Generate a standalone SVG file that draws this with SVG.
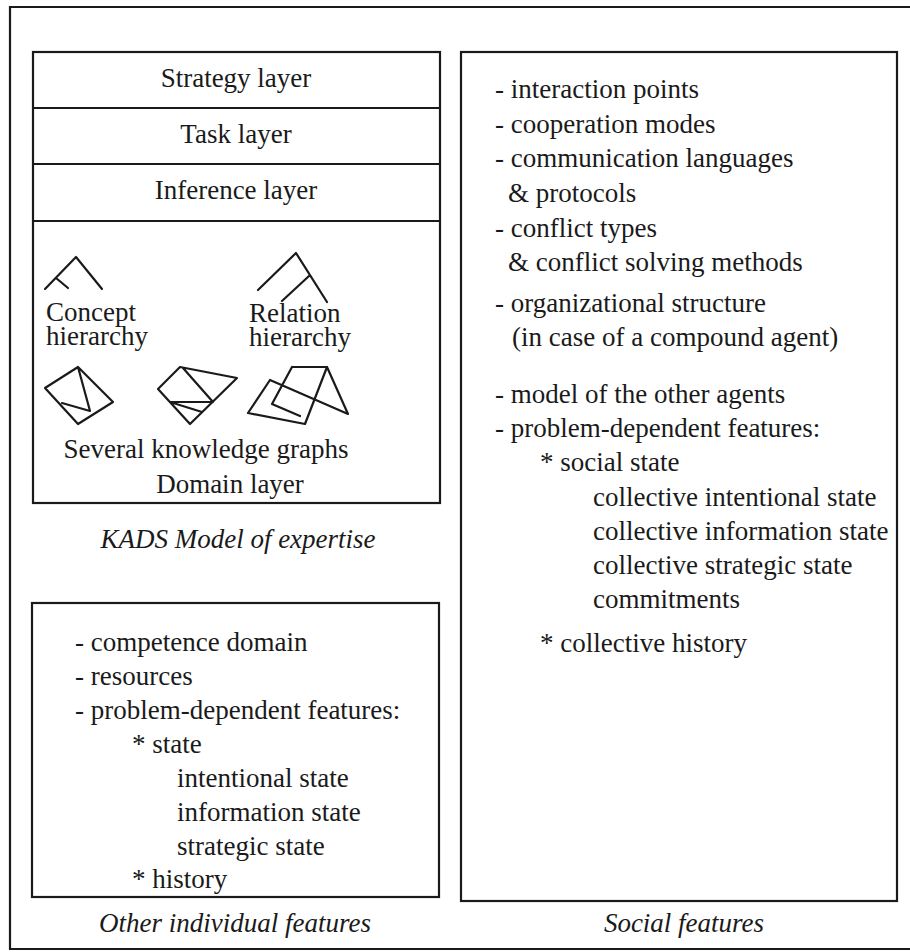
<svg xmlns="http://www.w3.org/2000/svg" width="910" height="952" viewBox="0 0 910 952">
  <style>
    .frame { fill: none; stroke: #1a1a1a; stroke-width: 2.2; }
    .glyph { fill: none; stroke: #1a1a1a; stroke-width: 2.2; stroke-linejoin: round; stroke-linecap: round; }
    .txt text { font-family: 'Liberation Serif', 'DejaVu Serif', serif; font-size: 27px; fill: #1a1a1a; }
    .mid { text-anchor: middle; }
    .cap { font-style: italic; }
  </style>

  <rect width="910" height="952" fill="#ffffff"/>

  <g class="txt" font-family="Liberation Serif, DejaVu Serif, serif">
  <!-- outer frame (its right side runs off the page) -->
  <path id="outer-frame" class="frame" d="M 920 7 L 10 7 L 10 949 L 920 949" stroke-width="2.6"/>

  <!-- KADS model of expertise: four stacked layers -->
  <g id="kads-model">
    <rect class="frame" x="33" y="52" width="407" height="451"/>
    <line class="frame" x1="33" y1="108" x2="440" y2="108"/>
    <line class="frame" x1="33" y1="164" x2="440" y2="164"/>
    <line class="frame" x1="33" y1="221" x2="440" y2="221"/>

    <g id="strategy-layer"><text class="mid" x="236" y="87">Strategy layer</text></g>
    <g id="task-layer"><text class="mid" x="236" y="143">Task layer</text></g>
    <g id="inference-layer"><text class="mid" x="236" y="199">Inference layer</text></g>

    <g id="domain-layer">
      <!-- concept hierarchy tree -->
      <g id="concept-hierarchy">
        <path class="glyph" d="M 45 289 L 76 257 L 102 289 M 56 278 L 68 288"/>
        <text x="46" y="321">Concept</text>
        <text x="46" y="345">hierarchy</text>
      </g>
      <!-- relation hierarchy tree -->
      <g id="relation-hierarchy">
        <path class="glyph" d="M 258 290 L 296 253 L 327 302 M 282 301 L 309 276"/>
        <text x="249" y="322">Relation</text>
        <text x="249" y="346">hierarchy</text>
      </g>
      <!-- several knowledge graphs -->
      <g id="knowledge-graph-1">
        <path class="glyph" d="M 45 388 L 78 367 L 113 402 L 78 424 Z M 78 367 L 90 411 L 62 403"/>
      </g>
      <g id="knowledge-graph-2">
        <path class="glyph" d="M 158 389 L 180 367 L 237 378 L 190 424 Z M 183 368 L 213 402 M 170 402 L 213 402 M 170 402 L 202 412"/>
      </g>
      <g id="knowledge-graph-3">
        <path class="glyph" d="M 292 367 L 327 367 L 348 414 L 270 380 L 248 413 L 305 424 L 327 367 M 292 367 L 272 404 L 300 416"/>
      </g>
      <text class="mid" x="206" y="458">Several knowledge graphs</text>
      <text class="mid" x="230" y="493">Domain layer</text>
    </g>
  </g>
  <text id="kads-caption" class="mid cap" x="238" y="548">KADS Model of expertise</text>

  <!-- other individual features -->
  <g id="individual-features">
    <rect class="frame" x="32" y="603" width="407" height="294"/>
    <text x="75" y="651">- competence domain</text>
    <text x="75" y="685">- resources</text>
    <text x="75" y="719">- problem-dependent features:</text>
    <text x="132" y="753">* state</text>
    <text x="177" y="787">intentional state</text>
    <text x="177" y="821">information state</text>
    <text x="177" y="855">strategic state</text>
    <text x="132" y="888">* history</text>
  </g>
  <text id="individual-caption" class="mid cap" x="235" y="932">Other individual features</text>

  <!-- social features -->
  <g id="social-features">
    <rect class="frame" x="461" y="52" width="436" height="849"/>
    <text x="495" y="98">- interaction points</text>
    <text x="495" y="133">- cooperation modes</text>
    <text x="495" y="167">- communication languages</text>
    <text x="508" y="202">&amp; protocols</text>
    <text x="495" y="237">- conflict types</text>
    <text x="508" y="271">&amp; conflict solving methods</text>
    <text x="495" y="312">- organizational structure</text>
    <text x="512" y="346">(in case of a compound agent)</text>
    <text x="495" y="403">- model of the other agents</text>
    <text x="495" y="437">- problem-dependent features:</text>
    <text x="540" y="471">* social state</text>
    <text x="593" y="506">collective intentional state</text>
    <text x="593" y="540">collective information state</text>
    <text x="593" y="574">collective strategic state</text>
    <text x="593" y="608">commitments</text>
    <text x="540" y="652">* collective history</text>
  </g>
  <text id="social-caption" class="mid cap" x="684" y="932">Social features</text>
  </g>
</svg>
